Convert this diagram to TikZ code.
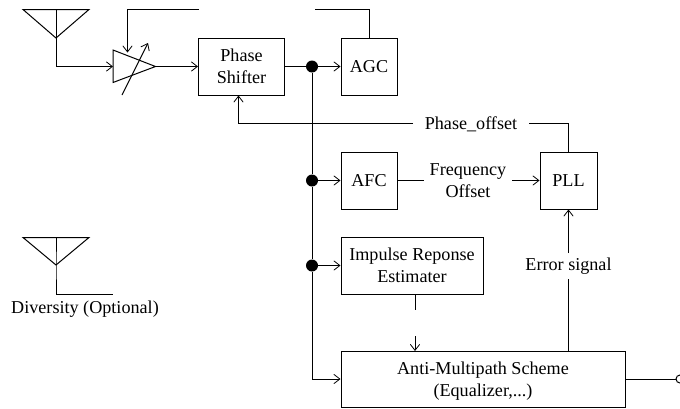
\documentclass[tikz,border=0pt]{standalone}
\usepackage{fontspec}
\setmainfont{Liberation Serif}
\usetikzlibrary{arrows.meta}
\tikzset{
  box/.style={draw,line width=0.75pt,align=center,inner sep=0pt,font=\fontsize{13.6}{16.5}\selectfont},
  lbl/.style={align=center,inner sep=0pt,font=\fontsize{13.6}{16.5}\selectfont},
  wire/.style={line width=0.75pt},
  arr/.style={wire,-{Straight Barb[length=4.5pt,width=7pt,line width=0.6pt]}},
  dot/.style={circle,fill=black,inner sep=0pt,minimum size=9pt}
}
\begin{document}
\begin{tikzpicture}[x=0.75pt,y=-0.75pt,line join=miter]
\useasboundingbox (0,0) rectangle (680,408);
% boxes
\node[box,minimum width=64.5pt,minimum height=42.75pt] (ps) at (241.5,66.5) {Phase\\Shifter};
\node[box,minimum width=42pt,minimum height=42.75pt] (agc) at (369,66.5) {AGC};
\node[box,minimum width=42pt,minimum height=42.75pt] (afc) at (369,180.5) {AFC};
\node[box,minimum width=42.75pt,minimum height=42.75pt] (pll) at (568.5,180.5) {PLL};
\node[box,minimum width=106.5pt,minimum height=42.75pt] (ire) at (412,265.5) {Impulse Reponse\\Estimater};
\node[box,minimum width=213pt,minimum height=42pt] (ams) at (483,379) {\rule{0pt}{12.5pt}Anti-Multipath Scheme\\(Equalizer,...)};
% labels
\node[lbl] (po) at (471,124) {Phase\_offset};
\node[lbl] (fo) at (468,181) {Frequency\\Offset};
\node[lbl] (es) at (568.5,266) {Error signal};
\node[lbl] (div) at (85,309.5) {Diversity (Optional)};
% junctions
\node[dot] (j1) at (312,66.5) {};
\node[dot] (j2) at (312,180.5) {};
\node[dot] (j3) at (312,265.5) {};
% antenna 1
\coordinate (a1l) at (23,9.5);
\coordinate (a1r) at (89,9.5);
\coordinate (a1t) at (56,9.5);
\coordinate (a1b) at (56,38);
\coordinate (a1c) at (56,66.5);
\draw[wire] (a1l) -- (a1r) -- (a1b) -- cycle;
\draw[wire] (a1t) -- (a1b);
% amplifier
\coordinate (aw) at (113,66.5);
\coordinate (ae) at (155.5,66.5);
\draw[wire] (113,50) -- (ae) -- (113,82.5) -- cycle;
\coordinate (dv1) at (122,95);
\coordinate (dv2) at (148,43);
\draw[arr] (dv1) -- (dv2);
\draw[arr] (a1b) -- (a1c) -- (aw);
\draw[arr] (ae) -- (ps.west);
% AGC feedback
\coordinate (fb1) at (199,9.5);
\coordinate (fb2) at (127.5,9.5);
\coordinate (fbe) at (127.5,52.5);
\draw[arr] (fb1) -- (fb2) -- (fbe);
\coordinate (fb3) at (315,9.5);
\coordinate (fb4) at (369.5,9.5);
\draw[wire] (fb3) -- (fb4) -- (fb4 |- agc.north);
% bus
\coordinate (busend) at (312,379);
\draw[wire] (ps.east) -- (j1);
\draw[arr] (j1) -- (agc.west);
\draw[wire] (j1) -- (j2) -- (j3) -- (busend);
\draw[arr] (j2) -- (afc.west);
\draw[arr] (j3) -- (ire.west);
\draw[arr] (busend) -- (busend -| ams.west);
% phase offset
\coordinate (pc) at (238.5,123.5);
\coordinate (pd) at (568.5,123.5);
\draw[wire] (pll.north) -- (pd) -- (529,123.5);
\draw[arr] (413,123.5) -- (pc) -- (pc |- ps.south);
% frequency offset
\draw[wire] (afc.east) -- (424,180.5);
\draw[arr] (512,180.5) -- (pll.west);
% impulse to anti
\draw[wire] (415,294) -- (415,310);
\draw[arr] (415,336) -- (415,351);
% error signal
\draw[wire] (568.5,351) -- (568.5,279);
\draw[arr] (568.5,253) -- (pll.south);
% output
\coordinate (out) at (676,379);
\draw[wire] (ams.east |- out) -- (out);
\draw[wire] (680,379) circle[radius=4];
% antenna 2
\coordinate (a2l) at (23,237.5);
\coordinate (a2r) at (89,237.5);
\coordinate (a2t) at (56,237.5);
\coordinate (a2b) at (56,265);
\coordinate (a2c) at (56,294);
\coordinate (a2e) at (113,294);
\draw[wire] (a2l) -- (a2r) -- (a2b) -- cycle;
\draw[wire] (a2t) -- (a2b) -- (a2c) -- (a2e);
\end{tikzpicture}
\end{document}
